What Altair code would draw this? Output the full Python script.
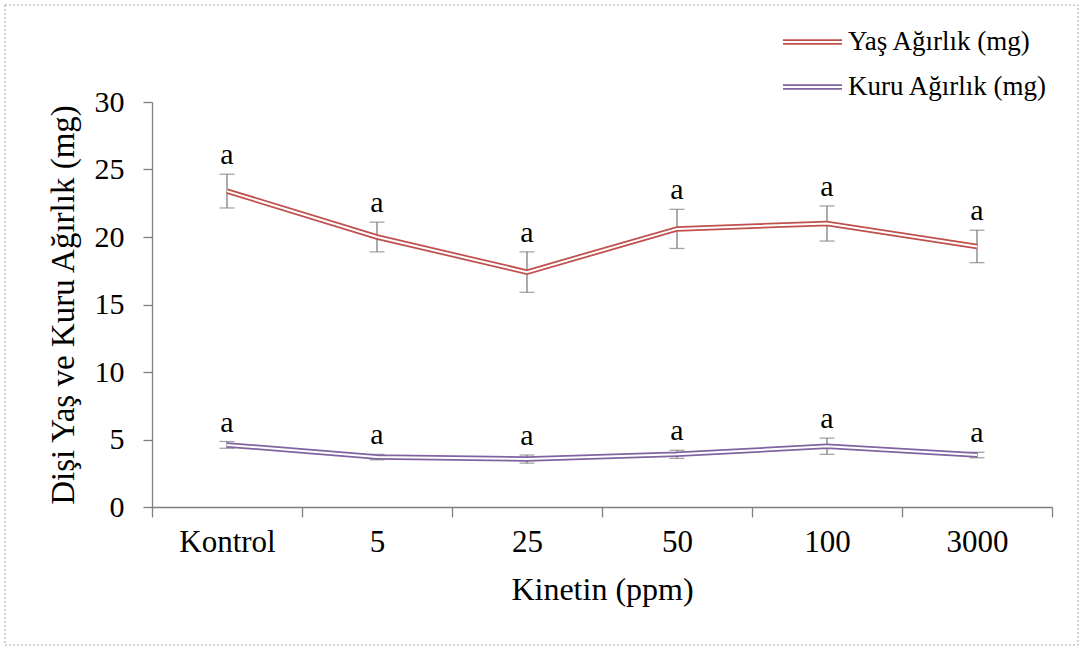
import altair as alt
import pandas as pd

categories = ["Kontrol", "5", "25", "50", "100", "3000"]
series_names = ["Yaş Ağırlık (mg)", "Kuru Ağırlık (mg)"]
yas_mean = [23.4, 20.0, 17.4, 20.6, 21.0, 19.3]
yas_err = [1.25, 1.1, 1.5, 1.45, 1.3, 1.2]
kuru_mean = [4.6, 3.7, 3.55, 3.9, 4.5, 3.85]
kuru_err = [0.25, 0.2, 0.3, 0.3, 0.6, 0.2]
letters_yas = ["a", "a", "a", "a", "a", "a"]
letters_kuru = ["a", "a", "a", "a", "a", "a"]
colors = ["#C0504D", "#8064A2"]

rows = []
for name, means, errs, lets in [
    (series_names[0], yas_mean, yas_err, letters_yas),
    (series_names[1], kuru_mean, kuru_err, letters_kuru),
]:
    for i, (c, m, e, l) in enumerate(zip(categories, means, errs, lets)):
        rows.append({"idx": i, "cat": c, "series": name, "mean": m,
                     "lo": m - e, "hi": m + e, "letter": l})
df = pd.DataFrame(rows)

FONT = "Liberation Serif"
AXC = "#7F7F7F"
n = len(categories)
xscale = alt.Scale(domain=[-0.5, n - 0.5], nice=False, zero=False)
yscale = alt.Scale(domain=[0, 30], nice=False, zero=True)
cscale = alt.Scale(domain=series_names, range=colors)

label_expr = "[" + ",".join("'%s'" % c for c in categories) + "][datum.value]"

base = alt.Chart(df)

x_none = alt.X("idx:Q", scale=xscale, axis=None)

# error bars (carry the y axis and the boundary-tick x axis)
err_rule = base.mark_rule(color=AXC, strokeWidth=1.3).encode(
    x=alt.X("idx:Q", scale=xscale,
            axis=alt.Axis(values=[i - 0.5 for i in range(n + 1)], labels=False,
                          ticks=True, tickSize=10, tickColor=AXC, tickWidth=1.3,
                          domainColor=AXC, domainWidth=1.3, grid=False,
                          orient="bottom",
                          title="Kinetin (ppm)", titleFontSize=32,
                          titlePadding=57)),
    y=alt.Y("lo:Q", scale=yscale,
            axis=alt.Axis(values=list(range(0, 31, 5)), tickSize=9,
                          tickColor=AXC, tickWidth=1.3, domainColor=AXC,
                          domainWidth=1.3, grid=False,
                          labelFontSize=30, labelPadding=19, orient="left",
                          title="Dişi Yaş ve Kuru Ağırlık (mg)",
                          titleFontSize=33, titlePadding=14)),
    y2="hi:Q")
caps = base.transform_fold(["lo", "hi"], as_=["k", "v"]).mark_tick(
    color=AXC, orient="horizontal", size=15, thickness=1.3).encode(
    x=x_none, y=alt.Y("v:Q", scale=yscale))

# double lines: thick coloured stroke + thin white centre
outer = base.mark_line(strokeWidth=5.5).encode(
    x=x_none,
    y=alt.Y("mean:Q", scale=yscale),
    color=alt.Color("series:N", scale=cscale, legend=None),
    detail="series:N",
)
inner = base.mark_line(strokeWidth=2, color="white").encode(
    x=x_none, y=alt.Y("mean:Q", scale=yscale), detail="series:N")

letters = base.mark_text(fontSize=30, baseline="bottom", dy=-4).encode(
    x=alt.X("idx:Q", scale=xscale,
            axis=alt.Axis(values=list(range(n)), labelExpr=label_expr,
                          ticks=False, domain=False, grid=False, orient="bottom",
                          labelFontSize=31, labelPadding=20, title=None)),
    y=alt.Y("hi:Q", scale=yscale),
    text="letter:N",
)

# legend (manual, to show the double line symbol)
leg_df = pd.DataFrame({"series": series_names, "pos": [0, 1]})
leg = alt.Chart(leg_df)
leg_layers = []
for k, name in enumerate(series_names):
    yv = -60 + 45 * k
    d = leg.transform_filter(alt.datum.pos == k)
    leg_layers.append(d.mark_rule(strokeWidth=5.5, color=colors[k]).encode(
        x=alt.value(631), x2=alt.value(690), y=alt.value(yv)))
    leg_layers.append(d.mark_rule(strokeWidth=2, color="white").encode(
        x=alt.value(631), x2=alt.value(690), y=alt.value(yv)))
    leg_layers.append(d.mark_text(fontSize=27, align="left",
                                  baseline="middle").encode(
        x=alt.value(696), y=alt.value(yv), text="series:N"))

border = alt.Chart(pd.DataFrame({"b": [0]})).mark_rect(
    fillOpacity=0, stroke="#A6A6A6", strokeWidth=1, strokeDash=[2, 2]).encode(
    x=alt.value(-147), x2=alt.value(926), y=alt.value(-97), y2=alt.value(543))

chart = alt.layer(err_rule, caps, outer, inner, letters, border, *leg_layers).resolve_axis(
    x="independent").properties(
    width=900, height=405,
    padding={"left": 152, "top": 102, "right": 30, "bottom": 143},
    autosize=alt.AutoSizeParams(type="none"),
    background="white",
).configure_view(stroke=None).configure_axis(
    labelFont=FONT, titleFont=FONT, labelColor="#000000", titleColor="#000000",
    titleFontWeight="normal"
).configure_text(font=FONT, color="#000000")

chart.save("out.html", embed_options={"renderer": "svg", "actions": False})
